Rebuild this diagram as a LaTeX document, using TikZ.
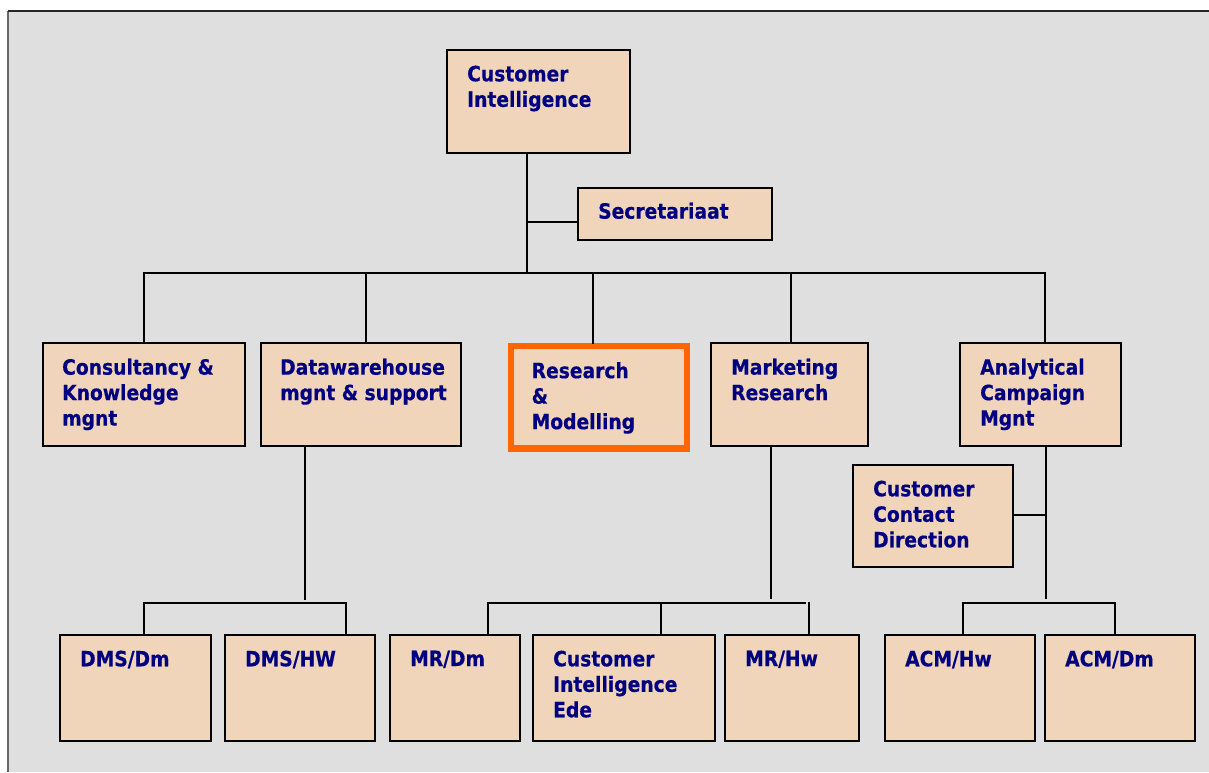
\documentclass[tikz,border=0pt]{standalone}
\usepackage{fontspec}
\newfontfamily\lblfont{DejaVu Sans}[FakeStretch=0.89, BoldFeatures={FakeBold=0.5}]
\usetikzlibrary{calc}
\definecolor{panel}{HTML}{DFDFDF}
\definecolor{boxfill}{HTML}{F0D5BB}
\definecolor{navy}{HTML}{000080}
\definecolor{hilite}{HTML}{FF6600}
\tikzset{
  box/.style={draw=black, line width=2pt, fill=boxfill, inner sep=0pt, anchor=north west},
  hibox/.style={box, draw=hilite, line width=6.5pt},
  lbl/.style={anchor=north west, inner sep=0pt, align=left, text=navy,
    font=\lblfont\bfseries\fontsize{21}{25.5}\selectfont},
  wire/.style={line width=2pt, line cap=rect},
}
\begin{document}
\begin{tikzpicture}[x=1pt, y=-1pt]
\useasboundingbox (0,0) rectangle (1209,772);
% grey panel with its frame
\fill[panel] (8,11) rectangle (1209,772);
\draw[black!60, line width=1.5pt] (8,772) -- (8,11);
\draw[black!85, line width=2pt] (7.5,11) -- (1209,11);

% top level
\node[box, minimum width=183, minimum height=103] (ci) at (446,49) {};
\node[lbl] (ci-t) at ($(ci.north west)+(21,16.5)$) {Customer\\Intelligence};
\node[box, minimum width=194, minimum height=52] (sec) at (577,187) {};
\node[lbl] (sec-t) at ($(sec.north west)+(21,15.5)$) {Secretariaat};

% departments
\node[box, minimum width=202, minimum height=103] (cons) at (42,342) {};
\node[lbl] (cons-t) at ($(cons.north west)+(20,16.5)$) {Consultancy \&\\Knowledge\\mgnt};
\node[box, minimum width=200, minimum height=103] (dw) at (260,342) {};
\node[lbl] (dw-t) at ($(dw.north west)+(20,16.5)$) {Datawarehouse\\mgnt \& support};
\node[hibox, minimum width=176, minimum height=102.5] (rm) at (507.5,342.5) {};
\node[lbl] (rm-t) at ($(rm.north west)+(24,19.5)$) {Research\\\&\\Modelling};
\node[box, minimum width=157, minimum height=103] (mr) at (710,342) {};
\node[lbl] (mr-t) at ($(mr.north west)+(21,16.5)$) {Marketing\\Research};
\node[box, minimum width=161, minimum height=103] (acm) at (959,342) {};
\node[lbl] (acm-t) at ($(acm.north west)+(21,16.5)$) {Analytical\\Campaign\\Mgnt};
\node[box, minimum width=160, minimum height=102] (ccd) at (852,464) {};
\node[lbl] (ccd-t) at ($(ccd.north west)+(21,16.5)$) {Customer\\Contact\\Direction};

% teams
\node[box, minimum width=151, minimum height=106] (dmsdm) at (59,634) {};
\node[lbl] (dmsdm-t) at ($(dmsdm.north west)+(21,16.5)$) {DMS/Dm};
\node[box, minimum width=150, minimum height=106] (dmshw) at (224,634) {};
\node[lbl] (dmshw-t) at ($(dmshw.north west)+(21,16.5)$) {DMS/HW};
\node[box, minimum width=130, minimum height=106] (mrdm) at (389,634) {};
\node[lbl] (mrdm-t) at ($(mrdm.north west)+(21,16.5)$) {MR/Dm};
\node[box, minimum width=182, minimum height=106] (ciede) at (532,634) {};
\node[lbl] (ciede-t) at ($(ciede.north west)+(21,16.5)$) {Customer\\Intelligence\\Ede};
\node[box, minimum width=134, minimum height=106] (mrhw) at (724,634) {};
\node[lbl] (mrhw-t) at ($(mrhw.north west)+(21,16.5)$) {MR/Hw};
\node[box, minimum width=150, minimum height=106] (acmhw) at (884,634) {};
\node[lbl] (acmhw-t) at ($(acmhw.north west)+(21,16.5)$) {ACM/Hw};
\node[box, minimum width=150, minimum height=106] (acmdm) at (1044,634) {};
\node[lbl] (acmdm-t) at ($(acmdm.north west)+(21,16.5)$) {ACM/Dm};

% junction points
\coordinate (hub) at (527,273);
\coordinate (secj) at (527,222);
\coordinate (b1) at (144,273);
\coordinate (b2) at (366,273);
\coordinate (b3) at (593,273);
\coordinate (b4) at (791,273);
\coordinate (b5) at (1045,273);
\coordinate (dwend) at (305,599);
\coordinate (dwl) at (143.5,602.5);
\coordinate (dwr) at (346,602.5);
\coordinate (mrend) at (770.5,598);
\coordinate (mrl) at (487.5,602.5);
\coordinate (mrm) at (661,602.5);
\coordinate (mrr) at (805,602.5);
\coordinate (mrr2) at (808.5,603);
\coordinate (acmend) at (1045.5,598);
\coordinate (ccdj) at (1045.5,514.5);
\coordinate (acml) at (963,603);
\coordinate (acmr) at (1115,603);

% connectors: top level
\draw[wire] (ci.south -| hub) -- (hub);
\draw[wire] (secj) -- (secj -| sec.west);
\draw[wire] (b1) -- (b5);
\foreach \b/\n in {b1/cons, b2/dw, b3/rm, b4/mr, b5/acm}
  \draw[wire] (\b) -- (\b |- \n.north);

% data warehouse teams
\draw[wire] (dw.south -| dwend) -- (dwend);
\draw[wire] (dwl |- dmsdm.north) -- (dwl) -- (dwr) -- (dwr |- dmshw.north);

% marketing research teams
\draw[wire] (mr.south -| mrend) -- (mrend);
\draw[wire] (mrl |- mrdm.north) -- (mrl) -- (mrr);
\draw[wire] (mrm) -- (mrm |- ciede.north);
\draw[wire] (mrr2) -- (mrr2 |- mrhw.north);

% analytical campaign teams
\draw[wire] (acm.south -| acmend) -- (acmend);
\draw[wire] (ccd.east |- ccdj) -- (ccdj);
\draw[wire] (acml |- acmhw.north) -- (acml) -- (acmr) -- (acmr |- acmdm.north);
\end{tikzpicture}
\end{document}
